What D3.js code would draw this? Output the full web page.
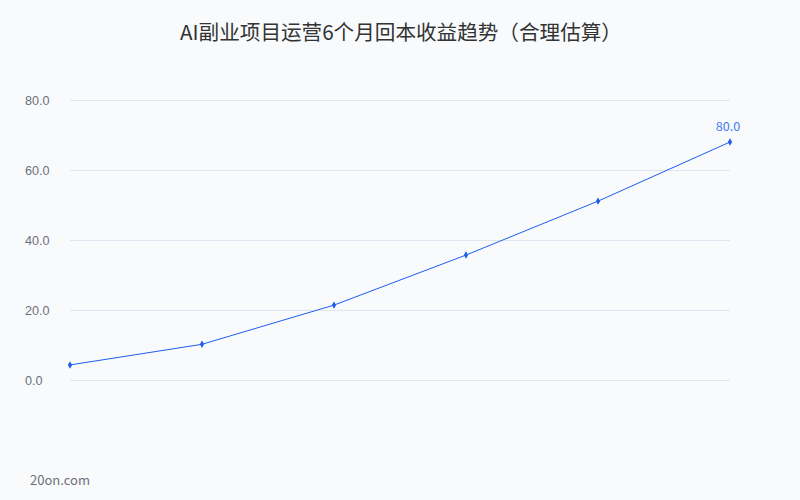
<!DOCTYPE html>
<html>
<head>
<meta charset="utf-8">
<script src="https://cdn.jsdelivr.net/npm/d3@7"></script>
<style>
  body { margin: 0; background: #f8fafc; }
  svg { display: block; font-family: "Noto Sans CJK SC", "Noto Sans", sans-serif; }
</style>
</head>
<body>
<div id="chart"></div>
<script>
// months (x labels are not shown in the picture)
var months = ["第1月", "第2月", "第3月", "第4月", "第5月", "第6月"];
var income = [4.3, 10.2, 21.4, 35.7, 51.1, 68.0];
var yTicks = [0, 20, 40, 60, 80];
var endLabel = "80.0";

const width = 800, height = 500;
const margin = { top: 100, right: 70, bottom: 120, left: 70 };

const svg = d3.select("#chart").append("svg")
  .attr("width", width)
  .attr("height", height);

svg.append("rect")
  .attr("width", width).attr("height", height)
  .attr("fill", "#f8fafc");

// title
svg.append("text")
  .attr("x", width / 2 + 1)
  .attr("y", 40)
  .attr("text-anchor", "middle")
  .attr("font-size", 20.6)
  .attr("fill", "#333")
  .text("AI副业项目运营6个月回本收益趋势（合理估算）");

const x = d3.scalePoint()
  .domain(months)
  .range([margin.left, width - margin.right]);

const y = d3.scaleLinear()
  .domain([0, 80])
  .range([height - margin.bottom, margin.top]);

// y axis with grid lines
const yAxis = svg.append("g")
  .attr("transform", `translate(${margin.left},0)`)
  .call(d3.axisLeft(y)
    .tickValues(yTicks)
    .tickFormat(d3.format(".1f"))
    .tickSize(-(width - margin.left - margin.right))
    .tickPadding(18));
yAxis.select(".domain").remove();
yAxis.selectAll(".tick line").attr("stroke", "#e0e6f1");
yAxis.selectAll(".tick text")
  .attr("fill", "#6e7079")
  .attr("font-size", 12.6)
  .attr("text-anchor", "start")
  .attr("x", -45);

const data = months.map((m, i) => ({ m: m, v: income[i] }));

const line = d3.line()
  .x(d => x(d.m))
  .y(d => y(d.v));

svg.append("path")
  .datum(data)
  .attr("fill", "none")
  .attr("stroke", "#1e5ef0")
  .attr("stroke-width", 1)
  .attr("d", line);

// small diamond markers
svg.selectAll(".pt")
  .data(data)
  .enter()
  .append("path")
  .attr("class", "pt")
  .attr("transform", d => `translate(${x(d.m)},${y(d.v)})`)
  .attr("d", d3.symbol(d3.symbolDiamond, 16))
  .attr("fill", "#1e5ef0");

// label above last point
const last = data[data.length - 1];
svg.append("text")
  .attr("x", x(last.m) - 2)
  .attr("y", y(last.v) - 11)
  .attr("text-anchor", "middle")
  .attr("font-size", 12.6)
  .attr("fill", "#3f7bf5")
  .text(endLabel);

// footer
svg.append("text")
  .attr("x", 30)
  .attr("y", 485)
  .attr("font-size", 13)
  .attr("fill", "#6e7079")
  .text("20on.com");
</script>
</body>
</html>
